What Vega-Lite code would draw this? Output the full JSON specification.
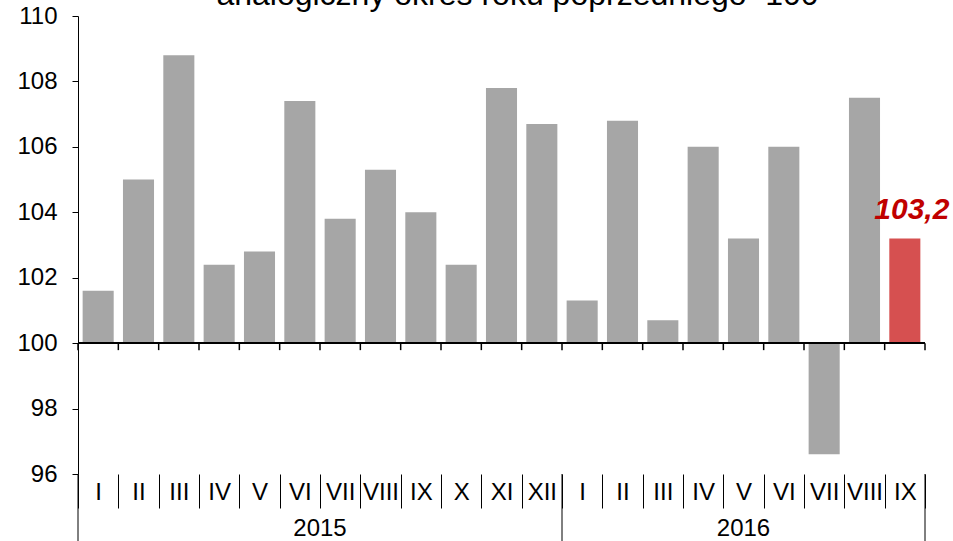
{
  "$schema": "https://vega.github.io/schema/vega-lite/v6.json",
  "width": 847,
  "height": 458,
  "autosize": {"type": "none"},
  "padding": {"left": 78, "top": 16, "right": 28, "bottom": 67},
  "config": {
    "view": {"stroke": null},
    "font": "Liberation Sans",
    "locale": {"number": {"decimal": ",", "thousands": " ", "grouping": [3], "currency": ["", " zł"]}}
  },
  "title": {
    "text": "analogiczny okres roku poprzedniego=100",
    "fontSize": 32,
    "fontWeight": "normal",
    "font": "Liberation Sans",
    "color": "#000000",
    "anchor": "middle",
    "baseline": "alphabetic",
    "offset": 0,
    "dy": 33,
    "dx": 16
  },
  "data": {
    "values": [
      {"period": "2015 I", "year": "2015", "month": "I", "value": 101.6},
      {"period": "2015 II", "year": "2015", "month": "II", "value": 105.0},
      {"period": "2015 III", "year": "2015", "month": "III", "value": 108.8},
      {"period": "2015 IV", "year": "2015", "month": "IV", "value": 102.4},
      {"period": "2015 V", "year": "2015", "month": "V", "value": 102.8},
      {"period": "2015 VI", "year": "2015", "month": "VI", "value": 107.4},
      {"period": "2015 VII", "year": "2015", "month": "VII", "value": 103.8},
      {"period": "2015 VIII", "year": "2015", "month": "VIII", "value": 105.3},
      {"period": "2015 IX", "year": "2015", "month": "IX", "value": 104.0},
      {"period": "2015 X", "year": "2015", "month": "X", "value": 102.4},
      {"period": "2015 XI", "year": "2015", "month": "XI", "value": 107.8},
      {"period": "2015 XII", "year": "2015", "month": "XII", "value": 106.7},
      {"period": "2016 I", "year": "2016", "month": "I", "value": 101.3},
      {"period": "2016 II", "year": "2016", "month": "II", "value": 106.8},
      {"period": "2016 III", "year": "2016", "month": "III", "value": 100.7},
      {"period": "2016 IV", "year": "2016", "month": "IV", "value": 106.0},
      {"period": "2016 V", "year": "2016", "month": "V", "value": 103.2},
      {"period": "2016 VI", "year": "2016", "month": "VI", "value": 106.0},
      {"period": "2016 VII", "year": "2016", "month": "VII", "value": 96.6},
      {"period": "2016 VIII", "year": "2016", "month": "VIII", "value": 107.5},
      {"period": "2016 IX", "year": "2016", "month": "IX", "value": 103.2}
    ]
  },
  "layer": [
    {
      "mark": {"type": "bar", "width": {"band": 0.77}},
      "encoding": {
        "x": {
          "field": "period",
          "type": "nominal",
          "sort": null,
          "scale": {"paddingInner": 0, "paddingOuter": 0},
          "axis": {
            "orient": "bottom",
            "title": null,
            "domain": false,
            "tickBand": "extent",
            "tickSize": 34,
            "tickColor": "#000000",
            "tickWidth": 1,
            "labelExpr": "split(datum.label, ' ')[1]",
            "labelAngle": 0,
            "labelFontSize": 24,
            "labelColor": "#000000",
            "labelBaseline": "middle",
            "labelPadding": -16
          }
        },
        "y": {
          "field": "value",
          "type": "quantitative",
          "scale": {"domain": [96, 110], "nice": false, "zero": false},
          "axis": {
            "title": null,
            "values": [96, 98, 100, 102, 104, 106, 108, 110],
            "grid": false,
            "domainColor": "#000000",
            "domainWidth": 1,
            "tickColor": "#000000",
            "tickSize": 6,
            "labelFontSize": 24,
            "labelColor": "#000000",
            "labelPadding": 15
          }
        },
        "y2": {"datum": 100},
        "color": {
          "condition": {"test": "datum.period === '2016 IX'", "value": "#d65050"},
          "value": "#a6a6a6"
        }
      }
    },
    {
      "mark": {"type": "rule", "color": "#000000", "strokeWidth": 1.5},
      "encoding": {"y": {"datum": 100}}
    },
    {
      "mark": {"type": "rule", "color": "#000000", "strokeWidth": 1.5},
      "encoding": {
        "x": {"field": "period", "type": "nominal", "sort": null, "bandPosition": 0},
        "y": {"datum": 100},
        "y2": {"datum": 99.786}
      }
    },
    {
      "transform": [{"filter": "datum.period === '2016 IX'"}],
      "mark": {"type": "rule", "color": "#000000", "strokeWidth": 1.5},
      "encoding": {
        "x": {"field": "period", "type": "nominal", "sort": null, "bandPosition": 1},
        "y": {"datum": 100},
        "y2": {"datum": 99.786}
      }
    },
    {
      "transform": [{"filter": "datum.month === 'I'"}],
      "mark": {"type": "rule", "color": "#000000", "strokeWidth": 1},
      "encoding": {
        "x": {"field": "period", "type": "nominal", "sort": null, "bandPosition": 0},
        "y": {"datum": 96},
        "y2": {"datum": 93.8}
      }
    },
    {
      "transform": [{"filter": "datum.period === '2016 IX'"}],
      "mark": {"type": "rule", "color": "#000000", "strokeWidth": 1},
      "encoding": {
        "x": {"field": "period", "type": "nominal", "sort": null, "bandPosition": 1},
        "y": {"datum": 96},
        "y2": {"datum": 93.8}
      }
    },
    {
      "transform": [{"filter": "datum.period === '2015 VI'"}],
      "mark": {"type": "text", "fontSize": 24, "color": "#000000", "baseline": "middle", "align": "center"},
      "encoding": {
        "x": {"field": "period", "type": "nominal", "sort": null, "bandPosition": 1},
        "y": {"datum": 94.32},
        "text": {"field": "year"}
      }
    },
    {
      "transform": [{"filter": "datum.period === '2016 V'"}],
      "mark": {"type": "text", "fontSize": 24, "color": "#000000", "baseline": "middle", "align": "center"},
      "encoding": {
        "x": {"field": "period", "type": "nominal", "sort": null, "bandPosition": 0.5},
        "y": {"datum": 94.32},
        "text": {"field": "year"}
      }
    },
    {
      "transform": [{"filter": "datum.period === '2016 IX'"}],
      "mark": {"type": "text", "fontSize": 30, "fontWeight": "bold", "fontStyle": "italic", "color": "#c00000", "baseline": "alphabetic", "align": "center", "dy": -19, "dx": 7},
      "encoding": {
        "x": {"field": "period", "type": "nominal", "sort": null},
        "y": {"field": "value", "type": "quantitative"},
        "text": {"field": "value", "type": "quantitative", "format": ".1f"}
      }
    }
  ]
}
